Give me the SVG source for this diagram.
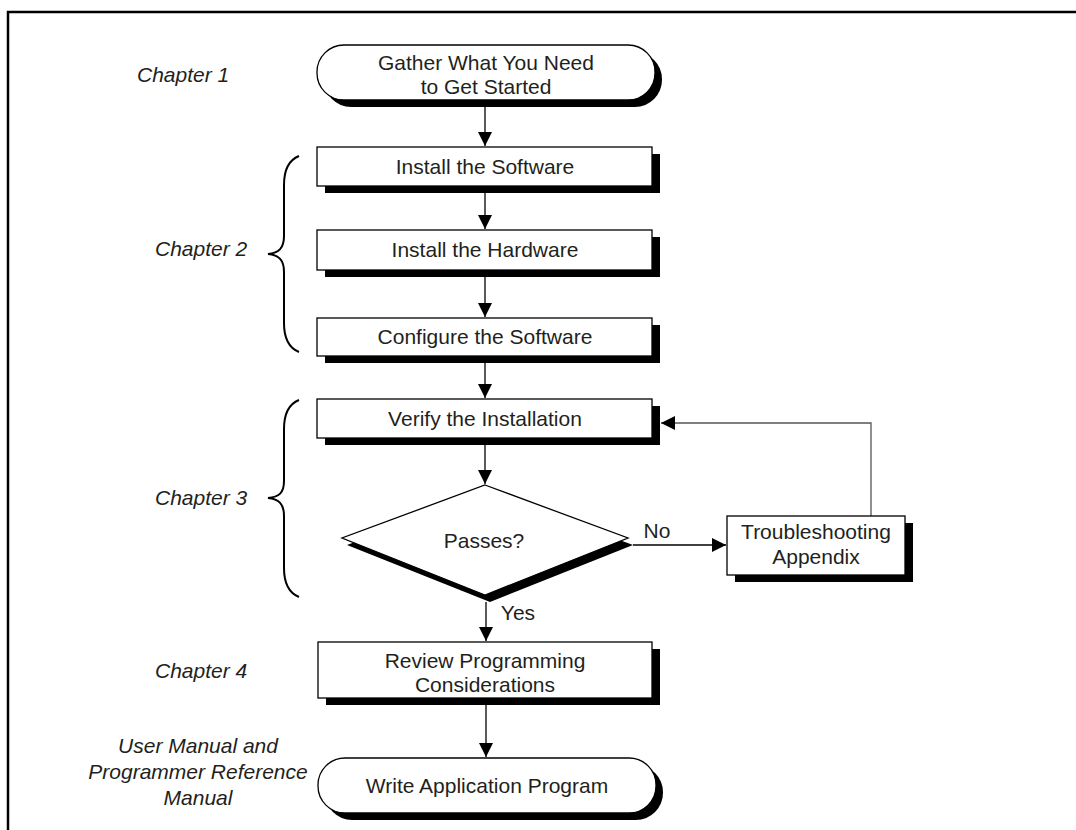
<svg xmlns="http://www.w3.org/2000/svg" width="1076" height="830" viewBox="0 0 1076 830">
<style>
.t{font-family:"Liberation Sans",Arial,sans-serif;font-size:21px;fill:#231f20;text-anchor:middle}
.ch{font-family:"Liberation Sans",Arial,sans-serif;font-size:21px;fill:#231f20;font-style:italic}
.box{fill:#fff;stroke:#000;stroke-width:1.3}
.sh{fill:#000}
.ln{stroke:#000;stroke-width:1.3;fill:none}
.br{stroke:#000;stroke-width:2;fill:none}
</style>
<defs>
<marker id="ah" markerWidth="14" markerHeight="14" viewBox="0 0 14 14" refX="14" refY="7" orient="auto" markerUnits="userSpaceOnUse">
<path d="M0,0 L14,7 L0,14 Z" fill="#000"/>
</marker>
</defs>
<rect x="8" y="12" width="1100" height="900" fill="none" stroke="#000" stroke-width="2.5"/>

<g id="labels">
<text class="ch" x="137" y="82">Chapter 1</text>
<text class="ch" x="155" y="256">Chapter 2</text>
<text class="ch" x="155" y="505">Chapter 3</text>
<text class="ch" x="155" y="678">Chapter 4</text>
<text class="ch" x="198" y="753" text-anchor="middle">User Manual and</text>
<text class="ch" x="198" y="779" text-anchor="middle">Programmer Reference</text>
<text class="ch" x="198" y="805" text-anchor="middle">Manual</text>
</g>
<g id="braces">
<path class="br" d="M299,156 C289,160 284,170 284,185 L284,236 C284,248 279,253 268,254 C279,255 284,260 284,272 L284,323 C284,338 289,348 299,352"/>
<path class="br" d="M299,400 C289,404 284,414 284,429 L284,481 C284,493 279,497 268,498 C279,499 284,504 284,516 L284,568 C284,583 289,593 299,597"/>
</g>

<g id="connectors">
<line class="ln" x1="485" y1="107" x2="485" y2="146" marker-end="url(#ah)"/>
<line class="ln" x1="485" y1="193" x2="485" y2="229" marker-end="url(#ah)"/>
<line class="ln" x1="485" y1="277" x2="485" y2="317" marker-end="url(#ah)"/>
<line class="ln" x1="485" y1="363" x2="485" y2="398" marker-end="url(#ah)"/>
<line class="ln" x1="485" y1="445" x2="485" y2="484" marker-end="url(#ah)"/>
<line class="ln" x1="486" y1="602" x2="486" y2="641" marker-end="url(#ah)"/>
<line class="ln" x1="486" y1="705" x2="486" y2="757" marker-end="url(#ah)"/>
<line class="ln" x1="633" y1="545" x2="726" y2="545" marker-end="url(#ah)"/>
<polyline points="871,516 871,423 661,423" fill="none" stroke="#555" stroke-width="1.3" marker-end="url(#ah)"/>
<text class="t" x="657" y="538">No</text>
<text class="t" x="518" y="620">Yes</text>
</g>

<g id="gather">
<rect class="sh" x="324" y="52" width="338" height="55" rx="27"/>
<rect class="box" x="317" y="45" width="338" height="55" rx="27"/>
<text class="t" x="486" y="70">Gather What You Need</text>
<text class="t" x="486" y="94">to Get Started</text>
</g>
<g id="install-software">
<rect class="sh" x="325" y="154" width="335" height="39"/>
<rect class="box" x="317" y="147" width="335" height="39"/>
<text class="t" x="485" y="174">Install the Software</text>
</g>
<g id="install-hardware">
<rect class="sh" x="325" y="237" width="335" height="40"/>
<rect class="box" x="317" y="230" width="335" height="40"/>
<text class="t" x="485" y="257">Install the Hardware</text>
</g>
<g id="configure">
<rect class="sh" x="325" y="325" width="335" height="38"/>
<rect class="box" x="317" y="318" width="335" height="38"/>
<text class="t" x="485" y="344">Configure the Software</text>
</g>
<g id="verify">
<rect class="sh" x="325" y="406" width="335" height="39"/>
<rect class="box" x="317" y="399" width="335" height="39"/>
<text class="t" x="485" y="426">Verify the Installation</text>
</g>
<g id="passes">
<polygon class="sh" points="490,492 633,545 490,602 347,545"/>
<polygon class="box" points="485,485 628,538 485,595 342,538"/>
<text class="t" x="484" y="548">Passes?</text>
</g>
<g id="troubleshooting">
<rect class="sh" x="735" y="523" width="178" height="59"/>
<rect class="box" x="727" y="516" width="178" height="59"/>
<text class="t" x="816" y="539">Troubleshooting</text>
<text class="t" x="816" y="564">Appendix</text>
</g>
<g id="review">
<rect class="sh" x="326" y="649" width="334" height="56"/>
<rect class="box" x="318" y="642" width="334" height="56"/>
<text class="t" x="485" y="668">Review Programming</text>
<text class="t" x="485" y="692">Considerations</text>
</g>
<g id="write">
<rect class="sh" x="325" y="765" width="338" height="55" rx="27"/>
<rect class="box" x="318" y="758" width="338" height="55" rx="27"/>
<text class="t" x="487" y="793">Write Application Program</text>
</g>
</svg>
